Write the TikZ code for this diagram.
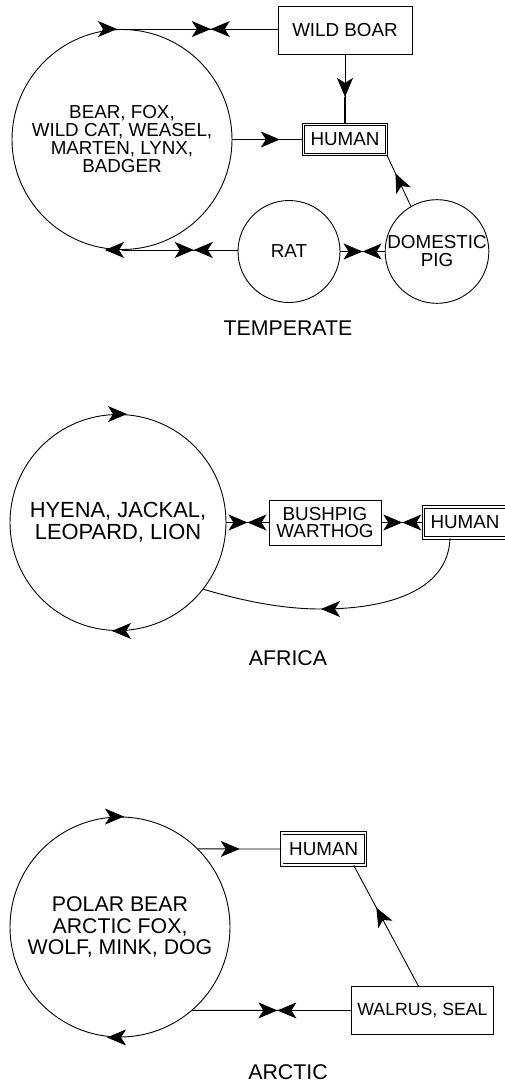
\documentclass[tikz,border=0pt]{standalone}
\usepackage{fontspec}
\setmainfont{Liberation Sans}
\usetikzlibrary{arrows.meta,decorations.markings}
\newcommand\fsz[2]{\fontsize{#1}{#2}\selectfont}
\tikzset{
  box/.style={draw, inner sep=0pt, align=center},
  hbox/.style={draw, double, double distance=1.6pt, line width=.8pt, inner sep=0pt},
  circ/.style={draw, circle, inner sep=0pt, align=center},
  regionlabel/.style={inner sep=0pt, font=\fsz{21.3}{21.3}},
  mid/.style={postaction={decorate},decoration={markings,mark=at position #1 with {\arrow{>}}}},
  meet/.style={postaction={decorate},decoration={markings,mark=at position #1 with {\arrow{>}\arrowreversed{>}}}},
}
\begin{document}
\begin{tikzpicture}[x=1pt,y=-1pt,line width=.9pt,
  >={Stealth[length=19pt,width=16pt,inset=5pt]},
  every node/.style={font=\fsz{18.8}{18}}]
\useasboundingbox (0,0) rectangle (505,1085);
\clip (0,0) rectangle (505,1085);
% ---------- Temperate
\node[circ, minimum size=220pt] (c1) at (122,139.5) {BEAR, FOX,\\WILD CAT, WEASEL,\\MARTEN, LYNX,\\BADGER};
\node[box, minimum width=134pt, minimum height=48pt] (boar) at (345,30) {WILD BOAR};
\node[hbox, minimum width=82.8pt, minimum height=30pt] (h1) at (345,139.5) {HUMAN};
\node[circ, minimum size=102pt] (rat) at (289,251.5) {RAT};
\node[circ, minimum size=101pt] (pig) at (437,251.5) {DOMESTIC\\PIG};
\node[regionlabel] (t1) at (288,328) {TEMPERATE};
\draw[meet=0.429] (boar.west |- c1.north) -- (c1.north);
\draw[mid=0.61] (boar.south) -- (h1.north) coordinate[pos=0.61] (bt);
\draw[line width=1.8pt] (bt) -- (h1.north);
\draw[mid=0.67] (c1.east) -- (h1.west);
\draw[meet=0.379] (c1.south -| rat.west) -- (c1.south);
\draw[meet=0.5] (pig.west) -- (rat.east);
\draw[mid=0.64] (pig.120) -- (h1.south east);
\draw[->] ([xshift=-6pt]c1.north) -- ([xshift=-5pt]c1.north);
\draw[->] ([xshift=-16pt]c1.south) -- ([xshift=-17pt]c1.south);
% ---------- Africa
\node[circ, minimum size=216pt, font=\fsz{21.9}{21.7}] (c2) at (118,522.5) {HYENA, JACKAL,\\LEOPARD, LION};
\node[box, minimum width=112pt, minimum height=45pt, font=\fsz{18.8}{17.7}] (bush) at (325,522.5) {BUSHPIG\\WARTHOG};
\node[hbox, minimum width=82.8pt, minimum height=31pt] (h2) at (465,522.5) {HUMAN};
\node[regionlabel] (t2) at (288,658) {AFRICA};
\draw[meet=0.5] (c2.east) -- (bush.west);
\draw[meet=0.5] (bush.east) -- (h2.west);
\coordinate (m2) at (321,609);
\draw ([xshift=-15pt]h2.south) .. controls (448,590) and (390,609) .. (m2) .. controls (280,609) and (240,600) .. (c2.-38);
\draw[->] ([xshift=1pt]m2) -- (m2);
\draw[->] ([xshift=8pt]c2.north) -- ([xshift=9pt]c2.north);
\draw[->] ([xshift=-5pt]c2.south) -- ([xshift=-6pt]c2.south);
% ---------- Arctic
\node[circ, minimum size=220pt, font=\fsz{21.3}{21.3}] (c3) at (120,927) {POLAR BEAR\\ARCTIC FOX,\\WOLF, MINK, DOG};
\node[hbox, minimum width=83.8pt, minimum height=32pt] (h3) at (323.7,849) {HUMAN};
\node[box, minimum width=141.7pt, minimum height=47.7pt, font=\fsz{17.7}{17.7}] (walrus) at (422.5,1010.5) {WALRUS, SEAL};
\node[regionlabel] (t3) at (288,1072) {ARCTIC};
\draw[mid=0.5] (c3.45) -- (h3.west);
\draw[meet=0.465] (walrus.west) -- (c3.-49);
\draw[mid=0.65] ([xshift=-4pt]walrus.north) -- ([xshift=30pt]h3.south);
\draw[->] ([xshift=3pt]c3.north) -- ([xshift=4pt]c3.north);
\draw[->] ([xshift=-12pt]c3.south) -- ([xshift=-13pt]c3.south);
\end{tikzpicture}
\end{document}
